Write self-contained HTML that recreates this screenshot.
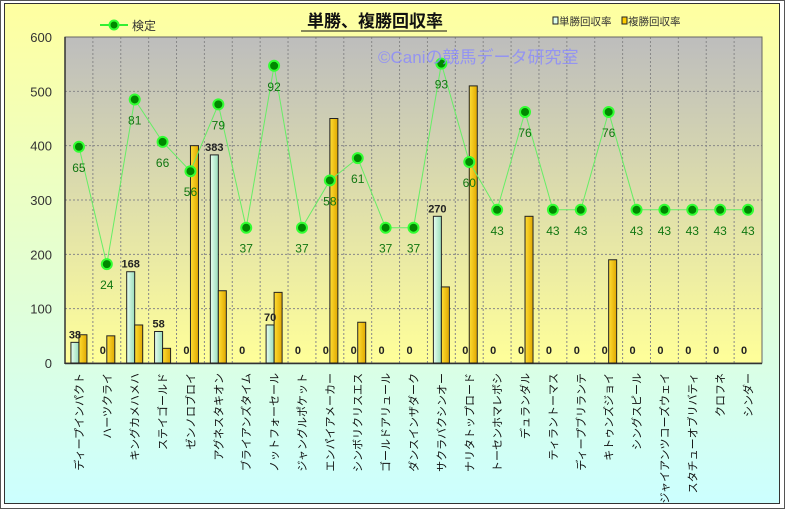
<!DOCTYPE html>
<html><head><meta charset="utf-8"><style>
body{margin:0;width:785px;height:509px;overflow:hidden;background:#fff}
svg{display:block;font-family:"Liberation Sans","Noto Sans CJK JP",sans-serif}
</style></head><body>
<svg id="s" width="785" height="509" xmlns="http://www.w3.org/2000/svg">
<defs>
<linearGradient id="bg" x1="0" y1="0" x2="0" y2="1"><stop offset="0" stop-color="#ffffa0"/><stop offset="1" stop-color="#ccffff"/></linearGradient>
<linearGradient id="pa" x1="0" y1="0" x2="0" y2="1"><stop offset="0" stop-color="#bdbdbd"/><stop offset="1" stop-color="#ffff99"/></linearGradient>
<linearGradient id="tb" x1="0" y1="0" x2="1" y2="0"><stop offset="0" stop-color="#e8fff0"/><stop offset="1" stop-color="#99ddbb"/></linearGradient>
<linearGradient id="fb" x1="0" y1="0" x2="1" y2="0"><stop offset="0" stop-color="#ffdd33"/><stop offset="1" stop-color="#e0a800"/></linearGradient>
</defs>
<rect x="0.5" y="0.5" width="784" height="508" fill="#fff" stroke="#555"/>
<rect x="4.5" y="3.5" width="775" height="500" fill="url(#bg)" stroke="#333"/>
<rect x="65" y="37" width="697" height="326" fill="url(#pa)"/>
<g id="g"></g>
</svg>
<script>
const g=document.getElementById('g');let h='';
const N=25,X0=65,W=697/N,Y0=363,K=326/600;
const y=v=>Y0-v*K;
const names=["ディープインパクト","ハーツクライ","キングカメハメハ","ステイゴールド","ゼンノロブロイ","アグネスタキオン","ブライアンズタイム","ノットフォーセール","ジャングルポケット","エンパイアメーカー","シンボリクリスエス","ゴールドアリュール","ダンスインザダーク","サクラバクシンオー","ナリタトップロード","トーセンホマレボシ","デュランダル","ティラントーマス","ディープブリランテ","キトゥンズジョイ","シングスピール","ジャイアンツコーズウェイ","スタチューオブリバティ","クロフネ","シンダー"];
const T=[38,0,168,58,0,383,0,70,0,0,0,0,0,270,0,0,0,0,0,0,0,0,0,0,0];
const F=[52,50,70,27,400,133,0,130,0,450,75,0,0,140,510,0,270,0,0,190,0,0,0,0,0];
const L=[398,182,485,407,353,476,249,547,249,336,377,249,249,551,370,282,462,282,282,462,282,282,282,282,282];
const LL=[65,24,81,66,56,79,37,92,37,58,61,37,37,93,60,43,76,43,43,76,43,43,43,43,43];
for(let v=100;v<=500;v+=100)h+=`<line x1="65" x2="762" y1="${y(v)}" y2="${y(v)}" stroke="#888" stroke-dasharray="2,2"/>`;
for(let i=1;i<N;i++){const x=X0+i*W;h+=`<line x1="${x}" x2="${x}" y1="37" y2="363" stroke="#888" stroke-dasharray="2,2"/>`;}
h+=`<rect x="65" y="37" width="697" height="326" fill="none" stroke="#666"/>`;
for(let v=0;v<=600;v+=100)h+=`<text x="52" y="${y(v)+5}" font-size="13" text-anchor="end" fill="#333">${v}</text>`;
h+=`<line x1="65" x2="65" y1="37" y2="364" stroke="#333" stroke-width="1.5"/><line x1="65" x2="762" y1="363.5" y2="363.5" stroke="#333" stroke-width="1.5"/>`;
let pts=[];
for(let i=0;i<N;i++){const c=X0+W*i+W/2;
 if(T[i]>0)h+=`<rect x="${c-8}" y="${y(T[i])}" width="8" height="${T[i]*K}" fill="url(#tb)" stroke="#222"/>`;
 if(F[i]>0)h+=`<rect x="${c}" y="${y(F[i])}" width="8" height="${F[i]*K}" fill="url(#fb)" stroke="#222"/>`;
 const ty=T[i]>0?y(T[i])-4:354;
 h+=`<text x="${c-4}" y="${ty}" font-size="11" font-weight="bold" text-anchor="middle" fill="#222">${T[i]}</text>`;
 pts.push(c+','+y(L[i]));
 h+=`<text transform="translate(${c+4},373) rotate(-90)" font-size="11" text-anchor="end" fill="#111">${names[i]}</text>`;
}
h+=`<polyline points="${pts.join(' ')}" fill="none" stroke="#66ee66" stroke-width="1"/>`;
for(let i=0;i<N;i++){const c=X0+W*i+W/2,yy=y(L[i]);
 h+=`<circle cx="${c}" cy="${yy}" r="5" fill="#008800" stroke="#33ff33" stroke-width="2"/>`;
 h+=`<text x="${c}" y="${yy+25}" font-size="12" text-anchor="middle" fill="#117711">${LL[i]}</text>`;}
h+=`<text x="375" y="27" font-size="17" font-weight="bold" text-anchor="middle" fill="#111">単勝、複勝回収率</text>`;
h+=`<line x1="301" x2="447" y1="31" y2="31" stroke="#111"/>`;
h+=`<line x1="100" x2="128" y1="25" y2="25" stroke="#33ee33" stroke-width="2"/><circle cx="114" cy="25" r="4.5" fill="#008800" stroke="#33ff33" stroke-width="2"/><text x="132" y="30" font-size="12" fill="#333">検定</text>`;
h+=`<rect x="553" y="17" width="5" height="7" fill="#ddffee" stroke="#222"/><text x="559" y="25" font-size="10.5" fill="#333">単勝回収率</text>`;
h+=`<rect x="622" y="17" width="5" height="7" fill="#ffcc00" stroke="#222"/><text x="628" y="25" font-size="10.5" fill="#333">複勝回収率</text>`;
h+=`<text x="378" y="63" font-size="17" fill="#8888ff" fill-opacity="0.8">©Caniの競馬データ研究室</text>`;
g.innerHTML=h;
</script>
</body></html>
